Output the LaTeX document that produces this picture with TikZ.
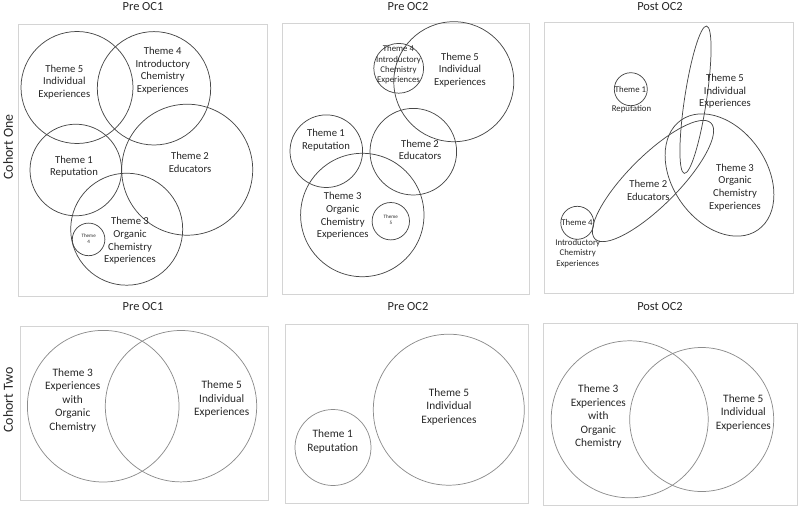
\documentclass[tikz,border=0pt]{standalone}
\usepackage{fontspec}
\setmainfont{Carlito}
\tikzset{
  panel/.style={draw=black!17,line width=0.6pt},
  ring/.style={draw=black!72,line width=0.55pt},
  lring/.style={draw=black!45,line width=0.55pt},
  ttl/.style={font=\fontsize{9.3}{11}\selectfont,text=black!85},
  coh/.style={font=\fontsize{10.4}{12}\selectfont,rotate=90,text=black!85},
  lbl/.style={font=\fontsize{8}{9.5}\selectfont,align=center,text=black!85,inner sep=0pt},
  blbl/.style={font=\fontsize{8.5}{10.1}\selectfont,align=center,text=black!85,inner sep=0pt},
  slbl/.style={font=\fontsize{6.6}{7.8}\selectfont,align=center,text=black!85,inner sep=0pt},
  tlbl/.style={font=\fontsize{3.8}{4.4}\selectfont,align=center,text=black!85,inner sep=0pt}
}
\begin{document}
\begin{tikzpicture}[x=0.75pt,y=-0.75pt]
  \useasboundingbox (0,0) rectangle (800,507);
  \node[coh] (cohA) at (8,147) {Cohort One};
  \node[coh] (cohB) at (8,400) {Cohort Two};
  \node[ttl] (ttlA) at (143,7) {Pre OC1}; \node[ttl] (ttlB) at (408,7) {Pre OC2}; \node[ttl] (ttlC) at (660,7) {Post OC2};
  \node[ttl] (ttlD) at (143,306.5) {Pre OC1}; \node[ttl] (ttlE) at (408,306.5) {Pre OC2}; \node[ttl] (ttlF) at (660,306.5) {Post OC2};
  \draw[panel] (18,24) rectangle (267,296);
  \draw[panel] (282,23) rectangle (529,294);
  \draw[panel] (544,22) rectangle (793,293);
  \draw[panel] (20,326) rectangle (268,500);
  \draw[panel] (285,324) rectangle (528,503);
  \draw[panel] (543,323) rectangle (797,505);
  % cohort one, pre OC1
  \draw[ring] (77,87.5) circle (56); \draw[ring] (154,88.3) circle (56.7);
  \draw[ring] (75.8,170) circle (45.8); \draw[ring] (187.2,169.7) circle (65.5);
  \draw[ring] (126.7,229.2) circle (56); \draw[ring] (88.6,239.4) circle (16.3);
  \node[lbl] (a5) at (64.3,82) {Theme 5\\Individual\\Experiences};
  \node[lbl] (a4) at (162.7,70.7) {Theme 4\\Introductory\\Chemistry\\Experiences};
  \node[lbl] (a1) at (74,166.7) {Theme 1\\Reputation};
  \node[lbl] (a2) at (190,162.3) {Theme 2\\Educators};
  \node[lbl] (a3) at (130,241) {Theme 3\\Organic\\Chemistry\\Experiences};
  \node[tlbl] (a4s) at (88.7,239) {Theme\\4};
  % cohort one, pre OC2
  \draw[ring] (398.7,68.3) circle (24.9); \draw[ring] (453.8,81.7) circle (60);
  \draw[ring] (326.3,151.2) circle (36.3); \draw[ring] (413.3,151.7) circle (43.3);
  \draw[ring] (362.3,215) circle (61.7); \draw[ring] (390.8,221.2) circle (18.7);
  \node[slbl] (b4) at (398.5,65) {Theme 4\\Introductory\\Chemistry\\Experiences};
  \node[lbl] (b5) at (460,70) {Theme 5\\Individual\\Experiences};
  \node[lbl] (b1) at (326,140) {Theme 1\\Reputation};
  \node[lbl] (b2) at (420,150) {Theme 2\\Educators};
  \node[lbl] (b3) at (342.7,216) {Theme 3\\Organic\\Chemistry\\Experiences};
  \node[tlbl] (b5s) at (390.8,219.5) {Theme\\5};
  % cohort one, post OC2
  \draw[ring] (630.8,89.2) circle (16.5); \draw[ring] (577.3,222.8) circle (16.5);
  \draw[ring,rotate around={81.4:(695.5,99.7)}] (695.5,99.7) ellipse [x radius=74.5,y radius=11];
  \draw[ring,rotate around={45:(653,181)}] (653,181) ellipse [x radius=82,y radius=25];
  \draw[ring,rotate around={125:(719.5,175)}] (719.5,175) ellipse [x radius=67,y radius=47];
  \node[slbl] (c1) at (630.5,89) {Theme 1}; \node[slbl] (c1r) at (631.5,109.5) {Reputation};
  \node[slbl] (c4) at (577,222.7) {Theme 4}; \node[slbl] (c4r) at (577.7,253.3) {Introductory\\Chemistry\\Experiences};
  \node[lbl] (c5) at (725,91.3) {Theme 5\\Individual\\Experiences};
  \node[lbl] (c3) at (735,187.3) {Theme 3\\Organic\\Chemistry\\Experiences};
  \node[lbl] (c2) at (648.3,190) {Theme 2\\Educators};
  % cohort two
  \draw[lring] (103.2,406.2) circle (75.8); \draw[lring] (181,406.2) circle (75.7);
  \node[blbl] (d3) at (72.7,400.3) {Theme 3\\Experiences\\with\\Organic\\Chemistry};
  \node[blbl] (d5) at (221.7,399) {Theme 5\\Individual\\Experiences};
  \draw[lring] (333,447.5) circle (38); \draw[lring] (448.8,409.7) circle (75.5);
  \node[blbl] (e1) at (332.7,441.7) {Theme 1\\Reputation};
  \node[blbl] (e5) at (449,406.7) {Theme 5\\Individual\\Experiences};
  \draw[lring] (629.7,419.3) circle (78.5); \draw[lring] (701.7,419.5) circle (72);
  \node[blbl] (f3) at (598.3,416.7) {Theme 3\\Experiences\\with\\Organic\\Chemistry};
  \node[blbl] (f5) at (743.3,412.7) {Theme 5\\Individual\\Experiences};
\end{tikzpicture}
\end{document}
